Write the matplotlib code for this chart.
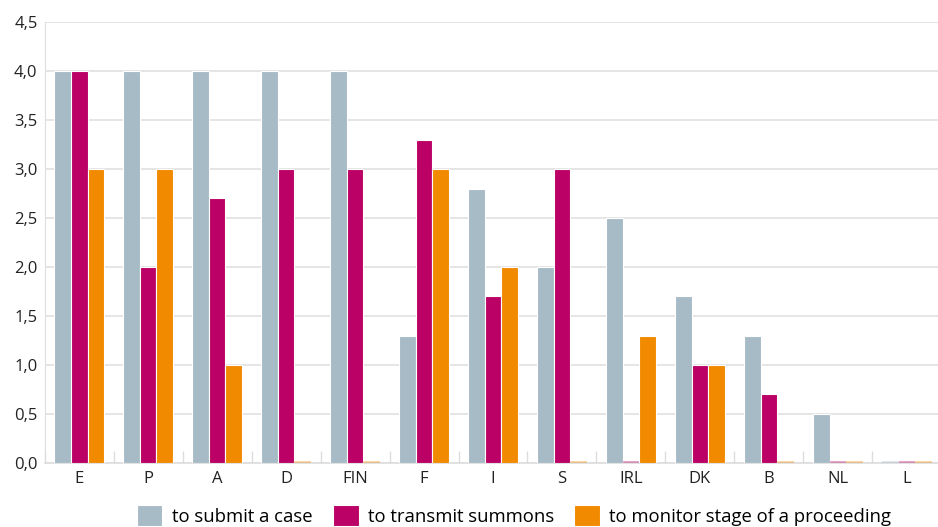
import numpy as np
import matplotlib.pyplot as plt

# Werte
countries = ['E', 'P', 'A', 'D', 'FIN', 'F', 'I', 'S', 'IRL', 'DK', 'B', 'NL', 'L']
submit = [4.0, 4.0, 4.0, 4.0, 4.0, 1.3, 2.8, 2.0, 2.5, 1.7, 1.3, 0.5, 0.0]
transmit = [4.0, 2.0, 2.7, 3.0, 3.0, 3.3, 1.7, 3.0, 0.0, 1.0, 0.7, 0.0, 0.0]
monitor = [3.0, 3.0, 1.0, 0.0, 0.0, 3.0, 2.0, 0.0, 1.3, 1.0, 0.0, 0.0, 0.0]
labels = ['to submit a case', 'to transmit summons', 'to monitor stage of a proceeding']
colors = ['#a7bbc7', '#bb0066', '#f28a00']

plt.rcParams['font.family'] = ['Open Sans', 'DejaVu Sans']

fig = plt.figure(figsize=(9.38, 5.27), dpi=100)
ax = fig.add_axes([0.0475, 0.1214, 0.9525, 0.8368])

x = np.arange(len(countries))
w = 0.245
for i, (vals, col, lab) in enumerate(zip([submit, transmit, monitor], colors, labels)):
    vals = np.array(vals)
    pos = x + (i - 1) * w
    nz = vals > 0
    ax.bar(pos[nz], vals[nz], width=w, color=col, edgecolor='white', linewidth=0.8,
           label=lab, zorder=3)
    # Nullwerte als blasse Linie an der Basis
    ax.bar(pos[~nz], np.full((~nz).sum(), 0.02), width=w, color=col, alpha=0.35,
           edgecolor='none', zorder=3)

ax.set_xlim(-0.5, 12.45)
ax.set_ylim(0, 4.5)
yt = np.arange(0, 4.51, 0.5)
ax.set_yticks(yt)
ax.set_yticklabels([f'{v:.1f}'.replace('.', ',') for v in yt], fontsize=12, color='#222222')
ax.set_xticks(x)
ax.set_xticklabels(countries, fontsize=12, color='#222222')
ax.tick_params(axis='x', length=0, pad=6)
ax.tick_params(axis='y', length=0, pad=5)
ax.set_xticks(np.arange(-0.5, 12.5, 1), minor=True)
ax.tick_params(axis='x', which='minor', direction='in', length=9, color='#dddddd', width=1)

ax.grid(axis='y', color='#e0e0e0', linewidth=1.2, zorder=0)
for s in ['top', 'right']:
    ax.spines[s].set_visible(False)
ax.spines['left'].set_color('#dddddd')
ax.spines['bottom'].set_color('#dddddd')
ax.spines['bottom'].set_linewidth(1.2)

fig.legend(loc='lower center', bbox_to_anchor=(0.548, -0.03), ncol=3, frameon=False,
           fontsize=13.3, handlelength=1.4, handleheight=1.4, handletextpad=0.5,
           columnspacing=1.1)

fig.savefig('out.png', dpi=100)
